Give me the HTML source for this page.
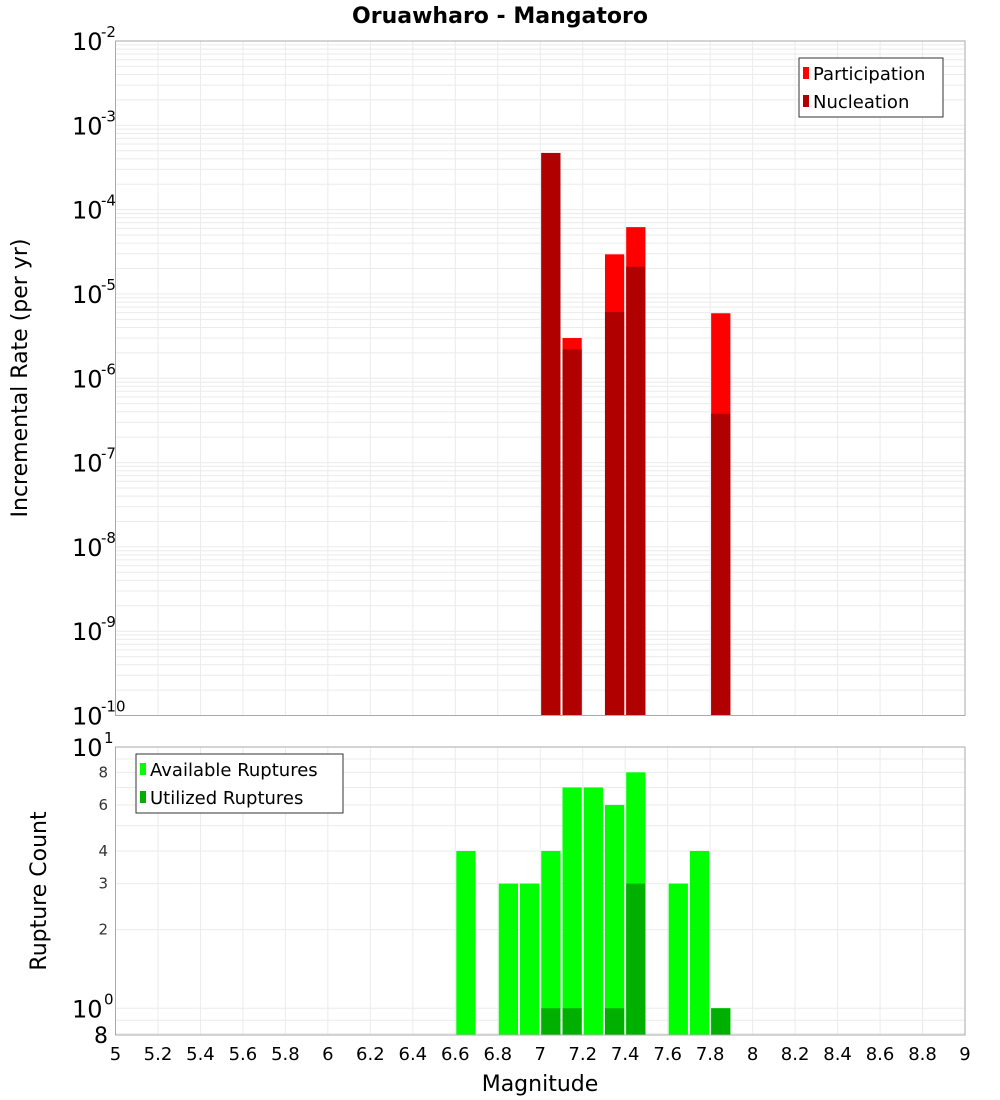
<!DOCTYPE html>
<html><head><meta charset="utf-8"><style>
body{margin:0;background:#fff;}
svg{display:block;font-family:"DejaVu Sans","Liberation Sans",sans-serif;}
</style></head><body>
<svg id="chart" width="1000" height="1100" xmlns="http://www.w3.org/2000/svg"></svg>
<script>
const binCenters = [7.05, 7.15, 7.35, 7.45, 7.85];
const participation = [4.7e-4, 3.0e-6, 2.95e-5, 6.2e-5, 5.9e-6];
const nucleation = [4.7e-4, 2.2e-6, 6.1e-6, 2.1e-5, 3.8e-7];
const countCenters = [6.65, 6.85, 6.95, 7.05, 7.15, 7.25, 7.35, 7.45, 7.65, 7.75, 7.85];
const available = [4, 3, 3, 4, 7, 7, 6, 8, 3, 4, 1];
const utilCenters = [7.05, 7.15, 7.35, 7.45, 7.85];
const utilized = [1, 1, 1, 3, 1];
const xTicks = ["5","5.2","5.4","5.6","5.8","6","6.2","6.4","6.6","6.8","7","7.2","7.4","7.6","7.8","8","8.2","8.4","8.6","8.8","9"];
const topExps = [-2,-3,-4,-5,-6,-7,-8,-9,-10];
const botTicks = ["8","6","4","3","2"];

const svg = document.getElementById('chart');
const NS = 'http://www.w3.org/2000/svg';
function mk(tag, attrs, parent){const e=document.createElementNS(NS,tag);for(const k in attrs)e.setAttribute(k,attrs[k]);(parent||svg).appendChild(e);return e;}
const X0=115.5,X1=965;
const x = m => X0 + (m-5)/(9-5)*(X1-X0);
const T0=41,T1=715.5;
const yTop = v => T0 + (-2 - Math.log10(v))/8*(T1-T0);
const B0=747,B1=1035;
const LMIN=Math.log10(0.79),LMAX=1;
const yBot = v => B1 - (Math.log10(v)-LMIN)/(LMAX-LMIN)*(B1-B0);
const barW = 0.1*(X1-X0)/4 - 2;

// title
let t=mk('text',{x:500,y:23,'text-anchor':'middle','font-size':22,'font-weight':'bold'});
t.textContent='Oruawharo - Mangatoro';

// grids
const g=mk('g',{stroke:'#ebebeb','stroke-width':1});

for(let i=0;i<xTicks.length;i++){const xx=x(parseFloat(xTicks[i]));mk('line',{x1:xx,x2:xx,y1:T0,y2:T1},g);mk('line',{x1:xx,x2:xx,y1:B0,y2:B1},g);}
for(let e=-10;e<-2;e++){for(let k=1;k<=9;k++){const yy=yTop(k*Math.pow(10,e));mk('line',{x1:X0,x2:X1,y1:yy,y2:yy},g);}}
for(let v of [0.8,0.9,1,2,3,4,5,6,7,8,9,10]){const yy=yBot(v);mk('line',{x1:X0,x2:X1,y1:yy,y2:yy},g);}

// top bars
for(let i=0;i<binCenters.length;i++){
  const r=mk('rect',{x:x(binCenters[i])-barW/2,y:yTop(participation[i]),width:barW,height:T1-yTop(participation[i]),fill:'#ff0000'});
  
  const n=mk('rect',{x:x(binCenters[i])-barW/2,y:yTop(nucleation[i]),width:barW,height:T1-yTop(nucleation[i]),fill:'#b00000'});
  
}
// bottom bars
for(let i=0;i<countCenters.length;i++){
  const r=mk('rect',{x:x(countCenters[i])-barW/2,y:yBot(available[i]),width:barW,height:B1-yBot(available[i]),fill:'#00ff00'});
  
}
for(let i=0;i<utilCenters.length;i++){
  const r=mk('rect',{x:x(utilCenters[i])-barW/2,y:yBot(utilized[i]),width:barW,height:B1-yBot(utilized[i]),fill:'#00b000'});
  
}
// frames
let f=mk('rect',{x:X0,y:T0,width:X1-X0,height:T1-T0,fill:'none',stroke:'#aaa'});

f=mk('rect',{x:X0,y:B0,width:X1-X0,height:B1-B0,fill:'none',stroke:'#aaa'});


// top y labels
for(let i=0;i<topExps.length;i++){
  const yy=yTop(Math.pow(10,topExps[i]));
  const tx=mk('text',{x:72,y:yy+9,'font-size':24});
  
  tx.textContent='10';
  const s=mk('text',{x:101,y:yy-4,'font-size':15});
  
  s.textContent=String(topExps[i]);
}
// bottom y labels
for(const [v,e] of [[10,'1'],[1,'0']]){
  const yy=yBot(v);
  const tx=mk('text',{x:72,y:yy+9,'font-size':24});
  tx.textContent='10';
  const s=mk('text',{x:104,y:yy-4,'font-size':15});
  s.textContent=e;
}
for(let i=0;i<botTicks.length;i++){
  const yy=yBot(parseFloat(botTicks[i]));
  const tx=mk('text',{x:108,y:yy+5,'font-size':15,'text-anchor':'end',fill:'#333'});
  tx.textContent=botTicks[i];
}
t=mk('text',{x:108,y:1043,'font-size':22,'text-anchor':'end'});
t.textContent='8';

// x labels
for(let i=0;i<xTicks.length;i++){
  const tx=mk('text',{x:x(parseFloat(xTicks[i])),y:1060,'font-size':18,'text-anchor':'middle'});
  tx.textContent=xTicks[i];
}
t=mk('text',{x:540,y:1091,'font-size':22,'text-anchor':'middle'});
t.textContent='Magnitude';
t=mk('text',{x:27,y:378,'font-size':22,'text-anchor':'middle',transform:'rotate(-90 27 378)'});
t.textContent='Incremental Rate (per yr)';
t=mk('text',{x:46,y:891,'font-size':22,'text-anchor':'middle',transform:'rotate(-90 46 891)'});
t.textContent='Rupture Count';

// legends
function legend(name,bx,by,w,items){
  const lg=mk('g',{});
  
  mk('rect',{x:bx,y:by,width:w,height:59,fill:'#fff',stroke:'#333'},lg);
  items.forEach((it,i)=>{
    const yy=by+15+i*28;
    const sw=mk('rect',{x:bx+4,y:yy-6,width:6,height:12,fill:it[1]},lg);
    
    const tx=mk('text',{x:bx+14,y:yy+7,'font-size':18},lg);
    tx.textContent=it[0];
  });
}
legend('top-legend',799,58,144,[['Participation','#ff0000'],['Nucleation','#b00000']]);
legend('bottom-legend',136,754,207,[['Available Ruptures','#00ff00'],['Utilized Ruptures','#00b000']]);
</script>
</body></html>
